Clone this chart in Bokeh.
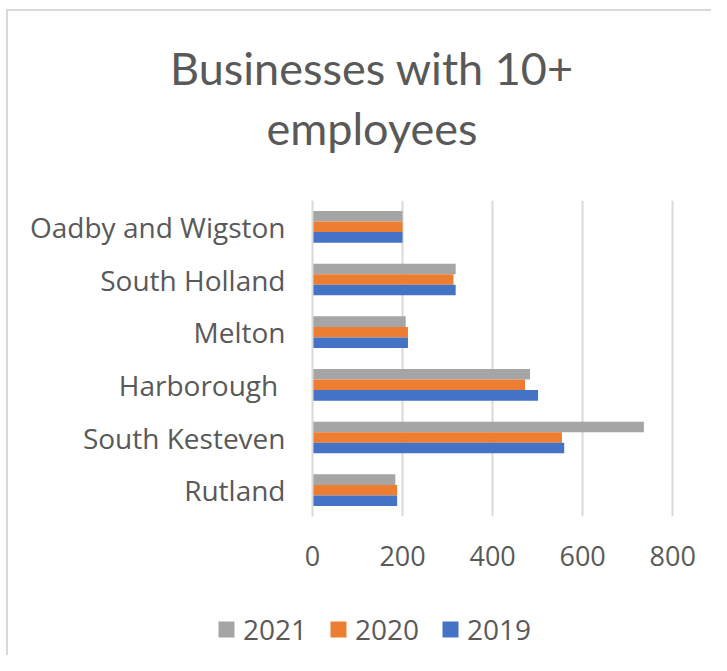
from bokeh.plotting import figure
from bokeh.layouts import column
from bokeh.models import ColumnDataSource, FactorRange, Range1d, Legend, LegendItem, Label, FixedTicker
from bokeh.transform import dodge
from bokeh.embed import file_html
from bokeh.resources import INLINE

categories = ["Rutland", "South Kesteven", "Harborough ", "Melton", "South Holland", "Oadby and Wigston"]
years = ["2021", "2020", "2019"]
v2021 = [184, 736, 483, 207, 318, 200]
v2020 = [188, 554, 472, 212, 313, 200]
v2019 = [188, 559, 501, 212, 318, 200]
x_ticks = [0, 200, 400, 600, 800]
title_lines = ["Businesses with 10+", "employees"]

colors = {"2021": "#A5A5A5", "2020": "#ED7D31", "2019": "#4472C4"}
offsets = {"2021": 0.2, "2020": 0.0, "2019": -0.2}
TXT = "#595959"
GRID = "#d9d9d9"

src = ColumnDataSource(dict(cat=categories, **{"2021": v2021, "2020": v2020, "2019": v2019}))

W = 711
H_TITLE, H_MAIN, H_LEG = 190, 400, 65


def bare(fig):
    fig.min_border_left = fig.min_border_right = fig.min_border_top = fig.min_border_bottom = 0
    fig.outline_line_color = None
    fig.background_fill_alpha = 0
    fig.border_fill_alpha = 0
    fig.frame_align = False
    return fig


# ---- title strip ----
pt = bare(figure(width=W, height=H_TITLE, output_backend="svg", toolbar_location=None,
                 title_location=None,
                 x_range=Range1d(0, W), y_range=Range1d(H_TITLE, 0),
                 x_axis_location=None, y_axis_location=None))
pt.grid.visible = False
for t, yb in zip(title_lines, [67, 127]):
    pt.add_layout(Label(x=371.5, y=yb, text=t, text_align="center", text_baseline="alphabetic",
                        text_font="Lato", text_font_size="45px", text_color=TXT))

# ---- main chart ----
p = figure(width=W, height=H_MAIN, output_backend="svg", toolbar_location=None,
           title_location=None,
           y_range=FactorRange(*categories, range_padding=0),
           x_range=Range1d(0, 804))
p.frame_align = False
p.min_border_left = 312
p.min_border_right = W - 312 - 362
p.min_border_top = 10
p.min_border_bottom = H_MAIN - 10 - 316
p.outline_line_color = None
p.background_fill_color = "white"
p.border_fill_alpha = 0

for yr in years:
    p.hbar(y=dodge("cat", offsets[yr], range=p.y_range), right=yr, left=0,
           height=0.2, source=src, color=colors[yr], line_color=None)

p.xaxis.ticker = FixedTicker(ticks=x_ticks)
p.xaxis.axis_line_color = None
p.xaxis.major_tick_line_color = None
p.xaxis.minor_tick_line_color = None
p.xaxis.major_tick_out = 0
p.xaxis.major_label_standoff = 29
p.xaxis.major_label_text_font = "Open Sans"
p.xaxis.major_label_text_font_size = "27px"
p.xaxis.major_label_text_color = TXT

p.yaxis.axis_line_color = GRID
p.yaxis.axis_line_width = 2
p.yaxis.major_tick_line_color = None
p.yaxis.minor_tick_line_color = None
p.yaxis.major_tick_out = 0
p.yaxis.major_label_standoff = 27
p.yaxis.major_label_text_font = "Open Sans"
p.yaxis.major_label_text_font_size = "28px"
p.yaxis.major_label_text_color = TXT

p.ygrid.grid_line_color = None
p.xgrid.ticker = FixedTicker(ticks=x_ticks)
p.xgrid.grid_line_color = GRID
p.xgrid.grid_line_width = 2

# ---- legend strip ----
pl = bare(figure(width=W, height=H_LEG, output_backend="svg", toolbar_location=None,
                 title_location=None,
                 x_range=Range1d(0, W), y_range=Range1d(H_LEG, 0),
                 x_axis_location=None, y_axis_location=None))
pl.grid.visible = False
nan = float("nan")
legend_src = ColumnDataSource(dict(y=[nan], right=[nan]))
leg_r = {yr: pl.hbar(y="y", right="right", height=1, source=legend_src, color=colors[yr], line_color=None)
         for yr in years}
legend = Legend(items=[LegendItem(label=yr, renderers=[leg_r[yr]]) for yr in years],
                orientation="horizontal", location=(216, 7),
                label_text_font="Open Sans", label_text_font_size="28px", label_text_color=TXT,
                glyph_width=20, glyph_height=20, label_standoff=7, spacing=21,
                padding=0, margin=0, border_line_color=None, background_fill_alpha=0)
pl.add_layout(legend, "center")

layout = column(pt, p, pl, spacing=0)
layout.styles = {"background": "linear-gradient(#d9d9d9,#d9d9d9) 6px 9px / 2px 100% no-repeat, "
                               "linear-gradient(#d9d9d9,#d9d9d9) 6px 9px / 100% 2px no-repeat, white"}

open("out.html", "w").write(file_html(layout, INLINE))
